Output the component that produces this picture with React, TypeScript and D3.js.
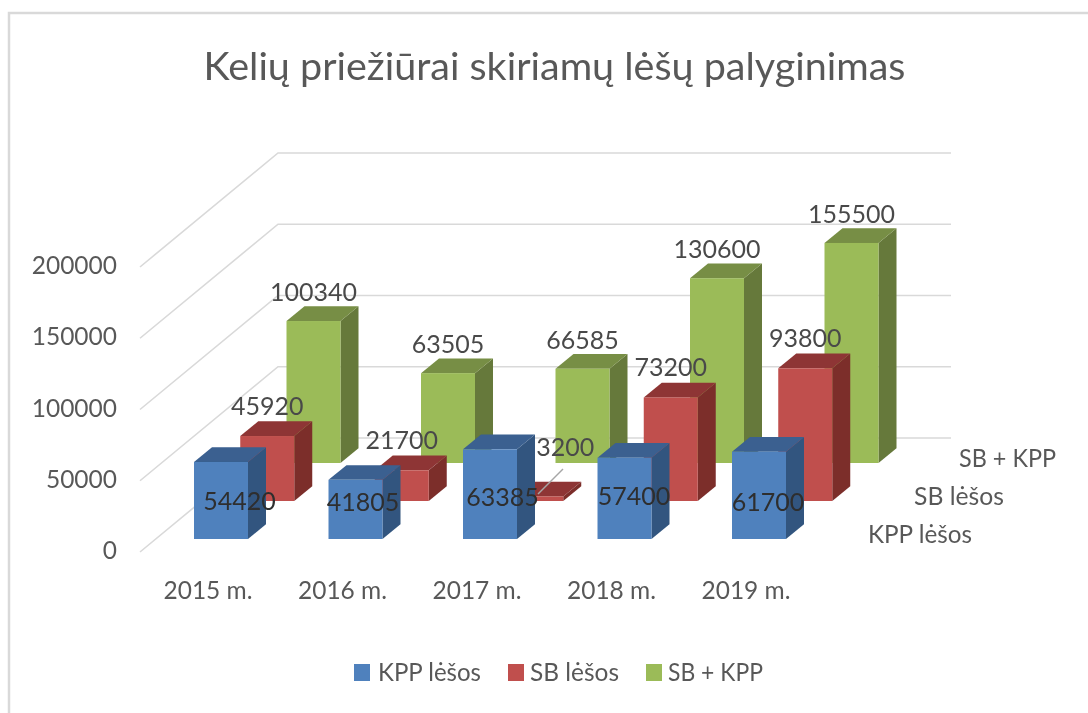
import React from "react";
import * as d3 from "d3";

const categories = ["2015 m.", "2016 m.", "2017 m.", "2018 m.", "2019 m."];
const seriesNames = ["KPP lėšos", "SB lėšos", "SB + KPP"];
const kppValues = [54420, 41805, 63385, 57400, 61700];
const sbValues = [45920, 21700, 3200, 73200, 93800];
const sumValues = [100340, 63505, 66585, 130600, 155500];
const seriesValues = [kppValues, sbValues, sumValues];
const yTicks = [0, 50000, 100000, 150000, 200000];
const title = "Kelių priežiūrai skiriamų lėšų palyginimas";

const faceColors = ["#4F81BD", "#C0504D", "#9BBB59"];
const topColors = ["#3A6090", "#8E3634", "#778E44"];
const sideColors = ["#32557F", "#7C2E2C", "#66793A"];

// hand-placed data label nudges (dx from bar centre, y centre relative to baseline)
const kppLabelDx = [18.5, 7.5, 12.5, 9.5, 9];
const kppLabelDy = [-38, -37, -42, -43, -37];

const W = 1088;
const H = 713;
const FONT = "Lato, 'Open Sans', sans-serif";
const TEXT = "#595959";
const GRID = "#D9D9D9";

const height = d3.scaleLinear().domain([0, 200000]).range([0, 283]);
const catX = d3.scalePoint<string>().domain(categories).range([194, 732]);
const serX = d3.scalePoint<string>().domain(seriesNames).range([0, 92.5]);
const serY = d3.scalePoint<string>().domain(seriesNames).range([539, 463]);
const barW = 54;
const depthX = 18;
const depthY = 14.7;

const poly = (pts: number[][]) => d3.line()(pts as [number, number][]) + "Z";

function Bar({ x, base, h, s }: { x: number; base: number; h: number; s: number }) {
  const top = base - h;
  return (
    <g>
      <path d={poly([[x + barW, base], [x + barW + depthX, base - depthY], [x + barW + depthX, top - depthY], [x + barW, top]])} fill={sideColors[s]} />
      <path d={poly([[x, top], [x + depthX, top - depthY], [x + barW + depthX, top - depthY], [x + barW, top]])} fill={topColors[s]} />
      <rect x={x} y={top} width={barW} height={h} fill={faceColors[s]} />
    </g>
  );
}

export default function App() {
  const backY = d3.scaleLinear().domain([0, 200000]).range([438, 153]);
  const order = [2, 1, 0];
  return (
    <svg width={W} height={H} viewBox={`0 0 ${W} ${H}`} style={{ position: "absolute", left: 0, top: 0, background: "#fff" }} fontFamily={FONT} fill={TEXT}>
      <defs>
        <filter id="soft" x="-2%" y="-2%" width="104%" height="104%">
          <feGaussianBlur stdDeviation="0.35" />
        </filter>
      </defs>
      <g filter="url(#soft)">
        <rect x={9} y={13} width={1090} height={720} fill="none" stroke={GRID} strokeWidth={2.5} />
        <text x={554.5} y={66.5} dy="0.35em" textAnchor="middle" fontSize={39.5}>{title}</text>

        {yTicks.map((t) => {
          const y = backY(t);
          return (
            <g key={t} fill="none" stroke={GRID} strokeWidth={1.6}>
              <path d={`M140,${y + 114}L278,${y}L951,${y}`} />
            </g>
          );
        })}
        {yTicks.map((t) => (
          <text key={t} x={117} y={backY(t) + 112.5} dy="0.35em" textAnchor="end" fontSize={24.5}>{t}</text>
        ))}

        {order.map((s) =>
          categories.map((c, i) => (
            <Bar key={`${s}-${c}`} x={catX(c)! + serX(seriesNames[s])!} base={serY(seriesNames[s])!} h={height(seriesValues[s][i])} s={s} />
          ))
        )}

        <path d="M563,469L538,494" stroke="#A6A6A6" strokeWidth={1.5} fill="none" />

        {categories.map((c, i) => {
          const x = catX(c)! + barW / 2;
          return (
            <g key={c} fontSize={25} textAnchor="middle" fill="#4A4A4A">
              <text x={x + serX(seriesNames[2])!} y={serY(seriesNames[2])! - height(sumValues[i]) - 29} dy="0.35em">{sumValues[i]}</text>
              <text x={i === 2 ? x + serX(seriesNames[1])! + 29 : x + serX(seriesNames[1])!} y={i === 2 ? 447.5 : serY(seriesNames[1])! - height(sbValues[i]) - 30} dy="0.35em">{sbValues[i]}</text>
              <text x={x + kppLabelDx[i]} y={serY(seriesNames[0])! + kppLabelDy[i] + 0.5} dy="0.35em" fill="#2E2E2E">{kppValues[i]}</text>
            </g>
          );
        })}

        {categories.map((c) => (
          <text key={c} x={catX(c)! + 14} y={590} dy="0.35em" textAnchor="middle" fontSize={25} textLength={89} lengthAdjust="spacingAndGlyphs">{c}</text>
        ))}

        {[0, 1, 2].map((s) => (
          <text key={s} x={[868, 914, 959][s]} y={[534, 496, 458][s]} dy="0.35em" fontSize={24.3} textLength={[104, 90, 97][s]} lengthAdjust="spacingAndGlyphs">{seriesNames[s]}</text>
        ))}

        {seriesNames.map((n, s) => (
          <g key={n}>
            <rect x={[354, 508, 646][s]} y={664} width={16} height={17} fill={faceColors[s]} />
            <text x={[378, 530, 668][s]} y={673} dy="0.35em" fontSize={24.2} textLength={[103, 89, 95][s]} lengthAdjust="spacingAndGlyphs">{n}</text>
          </g>
        ))}
      </g>
    </svg>
  );
}
